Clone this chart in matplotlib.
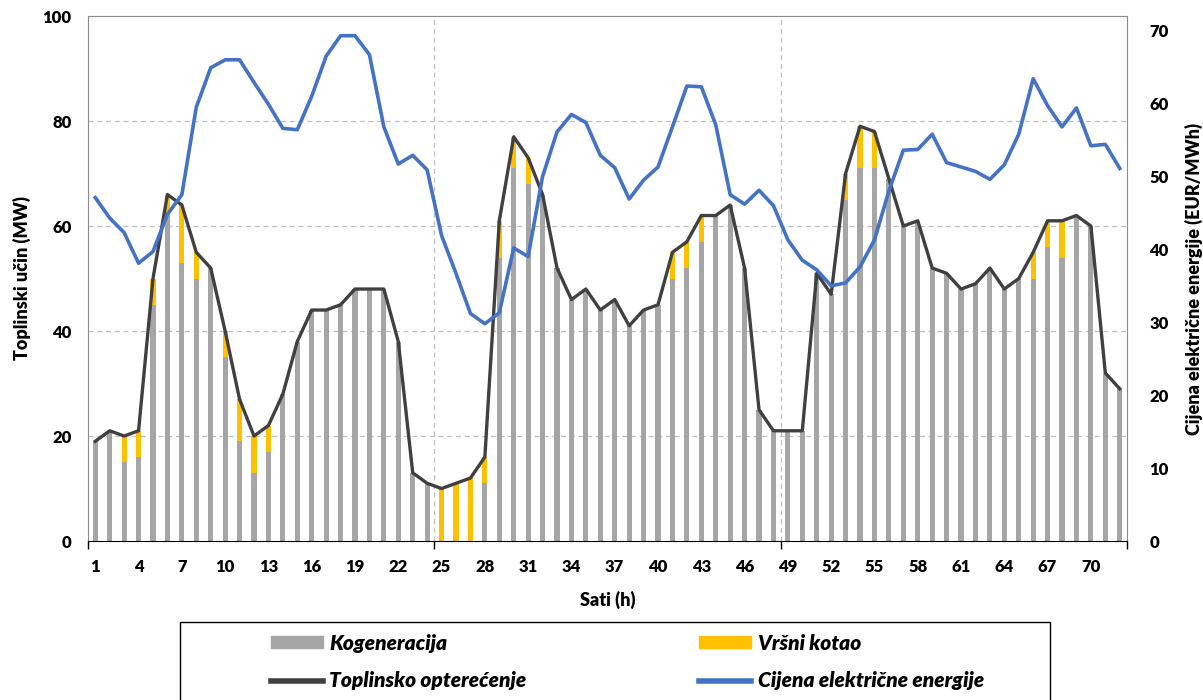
# -------------------------------
# 1. Moduli i podaci
# -------------------------------

import numpy as np
import matplotlib.pyplot as plt
from matplotlib.patches import Rectangle

plt.rcParams['font.family'] = ['Lato', 'DejaVu Sans']

# sati 1..72
sati = list(range(1, 73))

# toplinsko opterećenje (MW)
opterecenje = [19, 21, 20, 21, 50, 66, 64, 55, 52, 40, 27, 20, 22, 28, 38, 44, 44, 45, 48, 48, 48, 38, 13, 11,
               10, 11, 12, 16, 61, 77, 73, 66, 52, 46, 48, 44, 46, 41, 44, 45, 55, 57, 62, 62, 64, 52, 25, 21,
               21, 21, 51, 47, 70, 79, 78, 69, 60, 61, 52, 51, 48, 49, 52, 48, 50, 55, 61, 61, 62, 60, 32, 29]

# vršni kotao (MW)
vrsni = [0, 0, 5, 5, 5, 4, 11, 5, 0, 5, 8, 7, 5, 0, 0, 0, 0, 0, 0, 0, 0, 0, 0, 0,
         10, 11, 12, 5, 7, 6, 5, 0, 0, 0, 0, 0, 0, 0, 0, 0, 5, 5, 5, 0, 0, 0, 0, 0,
         0, 0, 0, 0, 5, 8, 7, 0, 0, 0, 0, 0, 0, 0, 0, 0, 0, 5, 5, 7, 0, 0, 0, 0]

# cijena električne energije (EUR/MWh)
cijena = [47.1, 44.3, 42.3, 38.1, 39.7, 44.8, 47.5, 59.5, 64.9, 66.0, 66.0, 62.9, 59.9, 56.6, 56.4, 61.0,
          66.5, 69.3, 69.3, 66.7, 56.8, 51.7, 52.9, 50.9,
          41.9, 36.7, 31.2, 29.8, 31.3, 40.2, 39.0, 50.0, 56.1, 58.5, 57.4, 52.9, 51.2, 46.9, 49.5, 51.3,
          56.8, 62.4, 62.3, 57.1, 47.5, 46.2, 48.1, 46.0,
          41.3, 38.5, 37.2, 35.0, 35.4, 37.6, 41.3, 48.0, 53.6, 53.7, 55.8, 51.9, 51.3, 50.7, 49.6, 51.6,
          55.8, 63.4, 59.7, 56.8, 59.4, 54.2, 54.4, 51.1]

# kogeneracija = opterećenje - vršni kotao
kogeneracija = [o - v for o, v in zip(opterecenje, vrsni)]

x_oznake = list(range(1, 72, 3))

# -------------------------------
# 2. Crtanje
# -------------------------------

fig = plt.figure(figsize=(12.03, 7), dpi=100)
ax = fig.add_axes([0.0732, 0.2271, 0.8636, 0.75])

ax.bar(sati, kogeneracija, width=0.36, color='#A5A5A5', zorder=2)
ax.bar(sati, vrsni, width=0.36, bottom=kogeneracija, color='#FFC000', zorder=2)
ax.plot(sati, opterecenje, color='#404040', lw=2.4, zorder=3)

ax.set_xlim(0.5, 72.5)
ax.set_ylim(0, 100)
ax.set_yticks(range(0, 101, 20))

# mreža
for y in [20, 40, 60, 80]:
    ax.axhline(y, color='#BFBFBF', ls=(0, (4, 3)), lw=0.9, zorder=0)
for xv in [24.5, 48.5]:
    ax.axvline(xv, color='#BFBFBF', ls=(0, (4, 3)), lw=0.9, zorder=0)

ax.set_xticks([0.5, 24.5, 48.5, 72.5])
ax.set_xticklabels([])
ax.set_xticks(x_oznake, minor=True)
ax.set_xticklabels([str(s) for s in x_oznake], minor=True)
ax.tick_params(axis='x', which='major', length=6, width=1, color='black', direction='out')
ax.tick_params(axis='x', which='minor', length=0, pad=13, labelsize=12)
ax.tick_params(axis='y', length=0, pad=12, labelsize=12)
for lab in ax.get_xticklabels(minor=True) + ax.get_yticklabels():
    lab.set_fontweight('heavy')

for s in ['top', 'left', 'right']:
    ax.spines[s].set_color('#8C8C8C')
ax.spines['bottom'].set_color('black')

ax.set_ylabel('Toplinski učin (MW)', fontsize=13, fontweight='heavy', labelpad=8)
ax.set_xlabel('Sati (h)', fontsize=13, fontweight='heavy', labelpad=11)

ax2 = ax.twinx()
ax2.plot(sati, cijena, color='#4472C4', lw=2.6, zorder=4)
ax2.set_ylim(0, 72)
ax2.set_yticks(range(0, 71, 10))
ax2.tick_params(axis='y', length=0, pad=16, labelsize=12)
for lab in ax2.get_yticklabels():
    lab.set_fontweight('heavy')
for s in ['top', 'left', 'right', 'bottom']:
    ax2.spines[s].set_visible(False)
ax2.set_ylabel('Cijena električne energije (EUR/MWh)', fontsize=13, fontweight='heavy', labelpad=12)

# -------------------------------
# 3. Legenda
# -------------------------------

fig.patches.append(Rectangle((180 / 1203, -0.05), 870 / 1203, 0.05 + 78 / 700,
                             transform=fig.transFigure, fill=False, ec='black', lw=1))

h1 = Rectangle((0, 0), 1, 1, color='#A5A5A5')
h2 = Rectangle((0, 0), 1, 1, color='#FFC000')
h3, = ax.plot([], [], color='#404040', lw=4)
h4, = ax.plot([], [], color='#4472C4', lw=4)
leg = fig.legend([h1, h3, h2, h4],
                 ['Kogeneracija', 'Toplinsko opterećenje', 'Vršni kotao', 'Cijena električne energije'],
                 ncol=2, loc='upper left', bbox_to_anchor=(252 / 1203, 1 - 615 / 700),
                 frameon=False, handlelength=2.5, handleheight=0.5, handletextpad=0.3,
                 columnspacing=8.3, labelspacing=0.9,
                 prop={'size': 15, 'style': 'italic', 'weight': 'heavy'})

fig.savefig('out.png', dpi=100)
